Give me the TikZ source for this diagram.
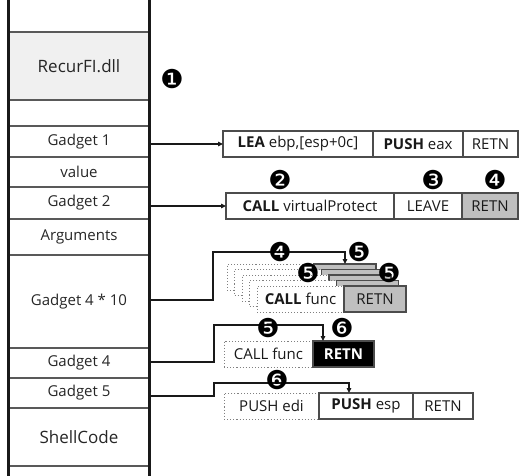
\documentclass[tikz,border=0pt]{standalone}
\usepackage{fontspec}
\setmainfont{Open Sans}
\newfontfamily\dingfont{DejaVu Sans}
\usetikzlibrary{arrows.meta,calc}
\begin{document}
\begin{tikzpicture}[x=1pt,y=-1pt,
  cell/.style={draw=black!65, line width=1.2pt, minimum width=141pt, inner sep=0pt, outer sep=0pt,
    anchor=north, font=\fontsize{15}{15}\selectfont, text=black!85},
  bx/.style={draw=black!70, line width=1.1pt, minimum height=26pt, inner sep=0pt, outer sep=0pt,
    anchor=north west, font=\fontsize{15}{15}\selectfont, text=black!90},
  dotcell/.style={bx, draw=black!50, dotted, line width=0.9pt, fill=white},
  graycell/.style={bx, fill=black!25},
  blackcell/.style={bx, fill=black, text=white, font=\fontsize{15}{15}\selectfont\bfseries},
  conn/.style={draw=black!90, line width=1.1pt, -{Triangle[length=5pt,width=4.5pt]}},
  lab/.style={font=\dingfont\fontsize{26}{26}\selectfont, inner sep=0pt},
  rail/.style={line width=2.7pt, black!90}
]
\useasboundingbox (0,0) rectangle (522,476);

% stack cells
\node[cell, minimum height=68pt, fill=black!6, font=\fontsize{17}{17}\selectfont] (dll) at (79,32) {RecurFI.dll};
\node[cell, minimum height=26pt] (emp) at (79,100) {};
\node[cell, minimum height=31pt] (g1) at (79,126) {Gadget 1};
\node[cell, minimum height=30pt] (val) at (79,157) {value};
\node[cell, minimum height=32pt] (g2) at (79,187) {Gadget 2};
\node[cell, minimum height=36pt] (arg) at (79,219) {Arguments};
\node[cell, minimum height=93pt] (g410) at (79,255) {Gadget 4 * 10};
\node[cell, minimum height=30pt] (g4) at (79,348) {Gadget 4};
\node[cell, minimum height=30pt] (g5) at (79,378) {Gadget 5};
\node[cell, minimum height=58pt, font=\fontsize{17}{17}\selectfont] (sc) at (79,408) {ShellCode};

% stack rails
\coordinate (rlt) at (8.7,0);
\coordinate (rlb) at (8.7,476);
\coordinate (rrt) at (149.5,0);
\coordinate (rrb) at (149.5,476);
\draw[rail] (rlt) -- (rlb);
\draw[rail] (rrt) -- (rrb);

% box 1
\node[bx, minimum width=150pt] (b1a) at (223,131) {\textbf{LEA} ebp,[esp+0c]};
\node[bx, minimum width=90pt] (b1b) at (373,131) {\textbf{PUSH} eax};
\node[bx, minimum width=55pt] (b1c) at (463,131) {RETN};

% box 2
\node[bx, minimum width=168pt] (b2a) at (226,193) {\textbf{CALL} virtualProtect};
\node[bx, minimum width=68pt] (b2b) at (394,193) {LEAVE};
\node[graycell, minimum width=56pt] (b2c) at (462,193) {RETN};

% box 3 (stacked layers)
\foreach \i in {0,1,2,3} {
  \node[dotcell, minimum width=87pt] (p\i a) at ({227+7.5*\i},{264+5.5*\i}) {};
  \node[graycell, minimum width=62pt] (p\i b) at ({314+7.5*\i},{264+5.5*\i}) {};
}
\node[dotcell, minimum width=87pt] (p4a) at (257,286) {\textbf{CALL} func};
\node[graycell, minimum width=62pt] (p4b) at (344,286) {RETN};

% box 4
\node[dotcell, minimum width=89pt] (b4a) at (224,341) {CALL func};
\node[blackcell, minimum width=61pt] (b4b) at (313,341) {RETN};

% box 5
\node[dotcell, minimum width=95pt] (b5a) at (224,393) {PUSH edi};
\node[bx, minimum width=94pt] (b5b) at (319,393) {\textbf{PUSH} esp};
\node[bx, minimum width=60pt] (b5c) at (413,393) {RETN};

% connectors
\draw[conn] (g1.east |- b1a.west) -- (b1a.west);
\draw[conn] (g2.east |- b2a.west) -- (b2a.west);

\coordinate (k3) at (213,252);
\draw[conn] ([yshift=1.5pt]g410.east) -| (k3) -- (k3 -| p0b.north) -- (p0b.north);

\coordinate (k4) at (214,325);
\coordinate (t4) at ([xshift=10pt]b4b.north west);
\draw[conn] ([yshift=1pt]g4.east) -| (k4) -- (k4 -| t4) -- (t4);

\coordinate (k5) at (214,383);
\coordinate (t5) at ([xshift=30pt]b5b.north west);
\draw[conn] ([yshift=-3pt]g5.east) -| (k5) -- (k5 -| t5) -- (t5);

% numbered labels
\node[lab] (n1) at (172,79) {❶};
\node[lab] (n2) at (280,180) {❷};
\node[lab] (n3) at (433,180) {❸};
\node[lab] (n4a) at (495,180) {❹};
\node[lab] (n4b) at (280,252) {❹};
\node[lab] (n5a) at (359,252) {❺};
\node[lab] (n5b) at (308,273) {❺};
\node[lab] (n5c) at (389,273) {❺};
\node[lab] (n5d) at (268,328) {❺};
\node[lab] (n6a) at (342,328) {❻};
\node[lab] (n6b) at (277,380) {❻};
\end{tikzpicture}
\end{document}
